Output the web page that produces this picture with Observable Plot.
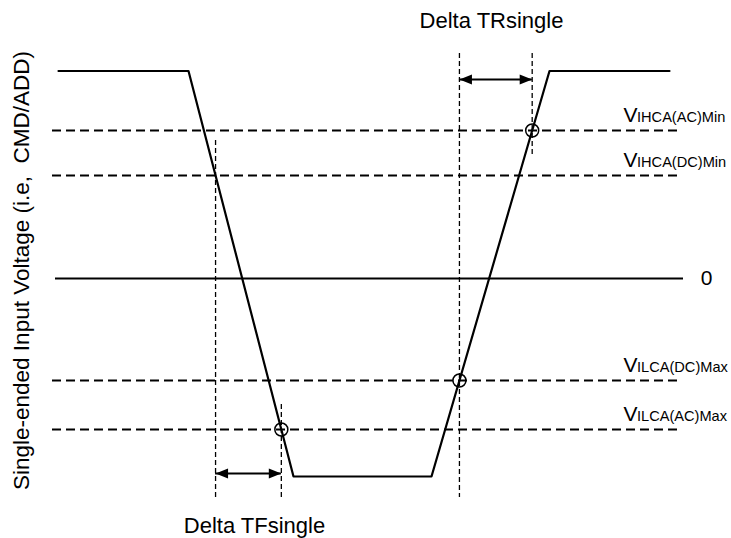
<!DOCTYPE html>
<html><head><meta charset="utf-8">
<script src="https://cdn.jsdelivr.net/npm/d3@7"></script>
<script src="https://cdn.jsdelivr.net/npm/@observablehq/plot@0.6"></script>
<style>body{margin:0;background:#fff;}</style>
</head><body><div id="chart"></div>
<script>
// ---- data (diagram time units / voltage units) ----
const waveT = [58, 188, 293, 431, 549, 669];
const waveV = [207.5, 207.5, -198, -198, 207.5, 207.5];

const levelSubs = ["IHCA(AC)Min", "IHCA(DC)Min", "ILCA(DC)Max", "ILCA(AC)Max"];
const levelV = [148, 103, -102, -151];
const levelSpan = [52, 677];
const zeroSpan = [55, 683];
const zeroLabel = "0";
const labelT = 623;
const zeroLabelT = 706;

// crossing markers: segment index of waveform, level index, guide top, guide bottom, circle?
const crossSeg = [1, 1, 3, 3];
const crossLevel = [1, 3, 2, 0];
const guideTop = [138, -126, 225, 225];
const guideBottom = [-219, -219, -219, 123];
const crossCircle = [false, true, true, true];

// delta arrows
const deltaFrom = [0, 2];
const deltaTo = [1, 3];
const deltaV = [-195, 199];
const deltaText = ["Delta TFsingle", "Delta TRsingle"];
const deltaTextT = [254, 491];
const deltaTextV = [-254, 251];

const yLabel = "Single-ended Input Voltage (i.e,  CMD/ADD)";
const yLabelPos = [21, 8];

// ---- derived ----
const wave = waveT.map((t, i) => ({t, v: waveV[i]}));
const levels = levelV.map((v, i) => ({v, sub: levelSubs[i], t1: levelSpan[0], t2: levelSpan[1], lt: labelT}));
const crossT = crossSeg.map((s, i) => {
  const v = levelV[crossLevel[i]];
  const t0 = waveT[s], t1 = waveT[s + 1], v0 = waveV[s], v1 = waveV[s + 1];
  return t0 + (v - v0) / (v1 - v0) * (t1 - t0);
});
const crosses = crossT.map((t, i) => ({t, v: levelV[crossLevel[i]], top: guideTop[i], bottom: guideBottom[i], circle: crossCircle[i]}));
const deltas = deltaFrom.map((f, i) => ({a: crossT[f], b: crossT[deltaTo[i]], v: deltaV[i], text: deltaText[i], tt: deltaTextT[i], tv: deltaTextV[i]}));

const headRight = {draw(ctx, size) { const r = Math.sqrt(size / Math.PI); ctx.moveTo(0, 0); ctx.lineTo(-2.5 * r, -r); ctx.lineTo(-2.5 * r, r); ctx.closePath(); }};
const headLeft = {draw(ctx, size) { const r = Math.sqrt(size / Math.PI); ctx.moveTo(0, 0); ctx.lineTo(2.5 * r, -r); ctx.lineTo(2.5 * r, r); ctx.closePath(); }};

const font = "Liberation Sans, Arial, sans-serif";

const chart = Plot.plot({
  width: 731,
  height: 538,
  margin: 0,
  style: {background: "#fff", fontFamily: font, overflow: "visible"},
  x: {domain: [0, 731], range: [0, 731], axis: null},
  y: {domain: [278, -260], range: [0, 538], axis: null},
  marks: [
    Plot.ruleY(levels, {y: "v", x1: "t1", x2: "t2", stroke: "#000", strokeWidth: 1.8, strokeDasharray: "9,5"}),
    Plot.ruleY([{v: 0}], {y: "v", x1: () => zeroSpan[0], x2: () => zeroSpan[1], stroke: "#000", strokeWidth: 2.2}),
    Plot.ruleX(crosses, {x: "t", y1: "top", y2: "bottom", stroke: "#000", strokeWidth: 1.3, strokeDasharray: "5,3"}),
    Plot.line(wave, {x: "t", y: "v", stroke: "#000", strokeWidth: 2.2}),
    Plot.dot(crosses.filter(d => d.circle), {x: "t", y: "v", r: 6.5, stroke: "#000", strokeWidth: 1.5, fill: "none"}),
    Plot.ruleY(deltas, {y: "v", x1: "a", x2: "b", stroke: "#000", strokeWidth: 2}),
    Plot.dot(deltas, {x: "a", y: "v", r: 5, symbol: headLeft, fill: "#000", stroke: "none"}),
    Plot.dot(deltas, {x: "b", y: "v", r: 5, symbol: headRight, fill: "#000", stroke: "none"}),
    Plot.text(deltas, {x: "tt", y: "tv", text: "text", fontSize: 22, textAnchor: "middle", lineAnchor: "bottom", fill: "#000", fontFamily: font}),
    Plot.text(levels, {x: "lt", y: "v", text: () => "V", dy: -9, fontSize: 21, textAnchor: "start", lineAnchor: "bottom", fill: "#000", fontFamily: font}),
    Plot.text(levels, {x: "lt", y: "v", text: "sub", dx: 13.5, dy: -9, fontSize: 14.6, textAnchor: "start", lineAnchor: "bottom", fill: "#000", fontFamily: font}),
    Plot.text([{t: zeroLabelT, v: 0}], {x: "t", y: "v", text: () => zeroLabel, fontSize: 21, textAnchor: "middle", lineAnchor: "middle", fill: "#000", fontFamily: font}),
    Plot.text([{t: yLabelPos[0], v: yLabelPos[1]}], {x: "t", y: "v", text: () => yLabel, rotate: -90, fontSize: 22.5, textAnchor: "middle", lineAnchor: "middle", fill: "#000", fontFamily: font})
  ]
});
document.getElementById("chart").appendChild(chart);
</script>
</body></html>
